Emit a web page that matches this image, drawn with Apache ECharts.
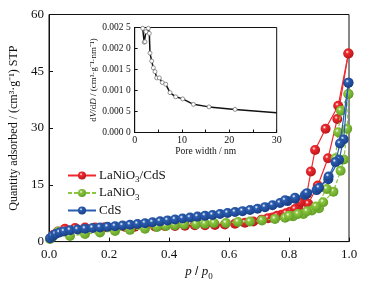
<!DOCTYPE html>
<html>
<head>
<meta charset="utf-8">
<script src="https://cdn.jsdelivr.net/npm/echarts@6/dist/echarts.min.js"></script>
<style>
  html, body { margin: 0; padding: 0; background: #fff; }
  #chart { width: 374px; height: 286px; }
</style>
</head>
<body>
<div id="chart"></div>
<script>
// isotherms: [p/p0, quantity adsorbed]
const compAds = [[0.004,0.9],[0.015,1.8],[0.03,2.7],[0.053,3.4],[0.087,3.6],[0.12,3.7],[0.153,3.7],[0.186,3.8],[0.22,3.8],[0.253,3.9],[0.286,3.9],[0.32,4.0],[0.353,4.0],[0.386,4.1],[0.42,4.1],[0.453,4.2],[0.486,4.3],[0.52,4.3],[0.553,4.4],[0.586,4.5],[0.62,4.7],[0.653,5.0],[0.681,5.3],[0.709,5.8],[0.745,6.4],[0.775,7.1],[0.803,7.9],[0.831,8.8],[0.864,10.0],[0.896,14.8],[0.93,22.0],[0.961,32.4],[0.998,49.7]];
const compDes = [[0.998,49.7],[0.964,35.9],[0.922,29.8],[0.887,24.2],[0.873,18.5],[0.859,12.5],[0.837,10.4],[0.82,8.6],[0.79,7.5],[0.76,6.8],[0.73,6.2]];

const lnoAds = [[0.003,0.7],[0.012,1.3],[0.03,2.6],[0.07,1.5],[0.12,2.0],[0.17,2.4],[0.22,2.8],[0.27,3.1],[0.32,3.4],[0.36,3.85],[0.39,4.1],[0.42,4.3],[0.45,4.5],[0.49,4.6],[0.52,4.7],[0.55,4.9],[0.59,4.9],[0.63,5.2],[0.67,5.3],[0.71,5.6],[0.753,6.0],[0.787,6.3],[0.814,6.7],[0.848,7.3],[0.876,8.2],[0.9,8.8],[0.914,10.4],[0.948,13.2],[0.972,18.7],[0.983,21.7],[0.994,29.8],[0.998,39.0]];
const lnoDes = [[0.998,39.0],[0.973,34.6],[0.964,28.9],[0.955,22.0],[0.926,13.9],[0.89,9.3],[0.86,8.0],[0.83,7.3],[0.8,6.8]];

const cdsAds = [[0.004,0.9],[0.012,1.5],[0.022,2.0],[0.035,2.4],[0.05,2.7],[0.07,3.0],[0.095,3.2],[0.12,3.4],[0.145,3.6],[0.17,3.75],[0.195,3.9],[0.22,4.05],[0.245,4.25],[0.27,4.45],[0.295,4.65],[0.32,4.85],[0.345,5.1],[0.37,5.35],[0.395,5.6],[0.42,5.85],[0.445,6.1],[0.47,6.35],[0.495,6.6],[0.52,6.85],[0.545,7.05],[0.57,7.3],[0.595,7.55],[0.62,7.8],[0.645,8.05],[0.67,8.35],[0.695,8.7],[0.72,9.1],[0.745,9.6],[0.77,10.2],[0.795,10.7],[0.82,11.3],[0.853,12.3],[0.892,13.6],[0.931,16.5],[0.967,21.6],[0.982,27.0],[0.998,42.0]];
const cdsDes = [[0.998,42.0],[0.97,25.9],[0.955,21.0],[0.932,17.2],[0.9,14.2],[0.86,12.8],[0.82,11.6],[0.787,10.9]];

// inset pore size distribution: [pore width nm, dV/dD]
const poreDist = [[1.69,0.00248],[2.0,0.00215],[2.18,0.00216],[2.39,0.0024],[2.88,0.00248],[3.09,0.00236],[3.23,0.00189],[3.59,0.0017],[3.93,0.00154],[4.29,0.00145],[4.65,0.0013],[5.2,0.0013],[5.83,0.00119],[6.55,0.00115],[7.46,0.00095],[8.66,0.00085],[10.14,0.0008],[12.4,0.00067],[15.7,0.00061],[21.2,0.00055],[30,0.00047]];

const names = ['LaNiO3/CdS', 'LaNiO3', 'CdS'];
const colors = { 'LaNiO3/CdS': ['#ee2a2f', '#b3141a'], 'LaNiO3': ['#8cc63f', '#5c9a22'], 'CdS': ['#2a5db0', '#173b80'] };

const FONT = '"Liberation Serif", "Times New Roman", serif';

function ball(name) {
  const c = colors[name];
  return {
    type: 'radial', x: 0.38, y: 0.35, r: 0.7,
    colorStops: [
      { offset: 0, color: '#ffffff' },
      { offset: 0.25, color: c[0] },
      { offset: 1, color: c[1] }
    ]
  };
}

function isoSeries(name, data) {
  return {
    name: name,
    type: 'line',
    xAxisIndex: 0, yAxisIndex: 0,
    data: data,
    symbol: 'circle',
    symbolSize: 10,
    showSymbol: true,
    lineStyle: { color: colors[name][0], width: 1.2, type: name === 'LaNiO3' ? [4, 2] : 'solid' },
    itemStyle: { color: ball(name), borderWidth: 0 },
    z: name === 'CdS' ? 4 : (name === 'LaNiO3' ? 3 : 2),
    animation: false
  };
}

const subRich = {
  a: { fontFamily: FONT, fontSize: 13, color: '#111' },
  s: { fontFamily: FONT, fontSize: 9, color: '#111', padding: [9, 0, 0, 0] }
};

const chart = echarts.init(document.getElementById('chart'), null, { renderer: 'canvas' });

const option = {
  backgroundColor: '#fff',
  animation: false,
  legend: {
    data: names,
    orient: 'vertical',
    left: 62, top: 164,
    itemWidth: 28, itemHeight: 10, itemGap: 2,
    formatter: (n) => n === 'LaNiO3/CdS' ? '{a|LaNiO}{s|3}{a|/CdS}' : (n === 'LaNiO3' ? '{a|LaNiO}{s|3}' : '{a|CdS}'),
    textStyle: { rich: subRich, padding: [0, 0, 0, -2] }
  },
  grid: [
    { left: 49, top: 14.5, right: 25, bottom: 43, show: true, borderColor: '#111', borderWidth: 1 },
    { left: 134.7, top: 27.5, right: 97.3, bottom: 153.5, show: true, borderColor: '#111', borderWidth: 1, backgroundColor: '#fff', z: 10 }
  ],
  xAxis: [
    {
      gridIndex: 0, type: 'value', min: 0, max: 1, interval: 0.2,
      axisLine: { lineStyle: { color: '#111' } },
      axisTick: { inside: true, length: 4, lineStyle: { color: '#111' } },
      splitLine: { show: false },
      axisLabel: { fontFamily: FONT, fontSize: 13, color: '#111', margin: 6, formatter: (v) => v.toFixed(1) },
      name: '{i|p} / {i|p}{s|0}', nameLocation: 'middle', nameGap: 19,
      nameTextStyle: { rich: { i: { fontFamily: FONT, fontSize: 13, fontStyle: 'italic', color: '#111' }, s: { fontFamily: FONT, fontSize: 9, color: '#111', padding: [9, 0, 0, 0] } } }
    },
    {
      gridIndex: 1, type: 'value', min: 0, max: 30, interval: 10,
      axisLine: { lineStyle: { color: '#111' } },
      axisTick: { inside: true, length: 3, lineStyle: { color: '#111' } },
      minorTick: { show: true, splitNumber: 2, length: 3, lineStyle: { color: '#111' } },
      splitLine: { show: false },
      axisLabel: { fontFamily: FONT, fontSize: 10, color: '#111', margin: 3 },
      name: 'Pore width / nm', nameLocation: 'middle', nameGap: 13,
      nameTextStyle: { fontFamily: FONT, fontSize: 9.5, color: '#111' },
      z: 11
    }
  ],
  yAxis: [
    {
      gridIndex: 0, type: 'value', min: 0, max: 60, interval: 15,
      axisLine: { lineStyle: { color: '#111' } },
      axisTick: { inside: true, length: 4, lineStyle: { color: '#111' } },
      splitLine: { show: false },
      axisLabel: { fontFamily: FONT, fontSize: 13, color: '#111', margin: 5 },
      name: 'Quantity adsorbed / (cm\u00b3\u00b7g\u207b\u00b9) STP', nameLocation: 'middle', nameGap: 23, nameRotate: 90,
      nameTextStyle: { fontFamily: FONT, fontSize: 12, color: '#111' }
    },
    {
      gridIndex: 1, type: 'value', min: 0, max: 0.0025, interval: 0.0005,
      axisLine: { lineStyle: { color: '#111' } },
      axisTick: { inside: true, length: 3, lineStyle: { color: '#111' } },
      splitLine: { show: false },
      axisLabel: {
        fontFamily: FONT, fontSize: 9.5, color: '#111', margin: 4,
        formatter: (v) => { const s = v.toFixed(4); return s.slice(0, 5) + ' ' + s.slice(5); }
      },
      name: 'd{i|V}/d{i|D} / (cm\u00b3\u00b7g\u207b\u00b9\u00b7nm\u207b\u00b9)', nameLocation: 'middle', nameGap: 36, nameRotate: 90,
      nameTextStyle: { fontFamily: FONT, fontSize: 9, color: '#111', rich: { i: { fontFamily: FONT, fontSize: 9, fontStyle: 'italic', color: '#111' } } },
      z: 11
    }
  ],
  series: [
    isoSeries('LaNiO3/CdS', compAds),
    isoSeries('LaNiO3/CdS', compDes),
    isoSeries('LaNiO3', lnoAds),
    isoSeries('LaNiO3', lnoDes),
    isoSeries('CdS', cdsAds),
    isoSeries('CdS', cdsDes),
    {
      name: 'pore', type: 'line', xAxisIndex: 1, yAxisIndex: 1,
      data: poreDist,
      symbol: (val, params) => params.dataIndex === poreDist.length - 1 ? 'none' : 'circle',
      symbolSize: 4,
      lineStyle: { color: '#111', width: 1.5 },
      itemStyle: { color: '#fff', borderColor: '#777', borderWidth: 0.8 },
      z: 12,
      animation: false
    }
  ]
};

chart.setOption(option);
</script>
</body>
</html>
